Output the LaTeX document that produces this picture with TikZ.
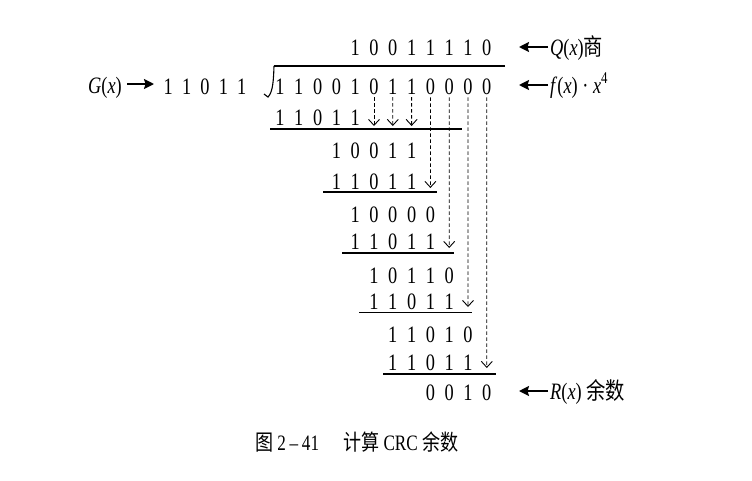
\documentclass[tikz,border=0pt]{standalone}
\usepackage{fontspec}
\setmainfont{Liberation Serif}[FakeStretch=0.78]
\newfontfamily\cjk{Noto Sans CJK SC}[FakeStretch=0.82]
\usetikzlibrary{arrows.meta}
\newcommand\dfont{\fontsize{23.5}{23.5}\selectfont}
\newcommand\digitrow[4]{%
  \foreach \dd [count=\k from 0] in {#4}{%
    \pgfmathsetmacro\xx{280+18.8*(#2+\k)}%
    \node[dg] (#1\k) at (\xx,#3) {\dd};
  }}
\tikzset{
  dg/.style={inner sep=0pt, anchor=base, font=\dfont},
  lab/.style={inner sep=0pt, anchor=base west, font=\dfont},
  rulel/.style={line width=1.7pt},
  bigarr/.style={line width=2pt, -{Stealth[length=10pt,width=10pt,inset=1.5pt]}},
  darr/.style={line width=0.8pt, dash pattern=on 3.5pt off 2.5pt, shorten <=3pt,
    -{Straight Barb[length=6pt,width=11pt,line width=0.9pt]}}
}
\begin{document}
\begin{tikzpicture}[x=1pt,y=-1pt]
\useasboundingbox (0,0) rectangle (752,480);
% quotient and dividend
\digitrow{q}{4}{55}{1,0,0,1,1,1,1,0}
\digitrow{d}{0}{94}{1,1,0,0,1,0,1,1,0,0,0,0}
% divisor
\foreach \dd [count=\k from 0] in {1,1,0,1,1}{%
  \pgfmathsetmacro\xx{168.3+18.35*\k}%
  \node[dg] (g\k) at (\xx,94) {\dd};
}
\node[lab, anchor=base east] (glab) at (122,93) {\textit{G}(\textit{x})};
\coordinate (ga1) at (127,84);
\coordinate (ga2) at (154,84);
\draw[bigarr] (ga1) -- (ga2);
% division bracket
\draw[line width=1.5pt] (505,66) -- (274,66);
\draw[line width=1.1pt] (274,66) .. controls (273.5,80) and (273,92) .. (268,97) -- (264,94);
% partial rows
\digitrow{a}{0}{125}{1,1,0,1,1}
\draw[rulel] (270,129) -- (462,129);
\digitrow{b}{3}{158}{1,0,0,1,1}
\digitrow{c}{3}{189}{1,1,0,1,1}
\draw[rulel] (323,192) -- (437,192);
\digitrow{e}{4}{222}{1,0,0,0,0}
\digitrow{f}{4}{249}{1,1,0,1,1}
\draw[rulel] (342,253) -- (454,253);
\digitrow{h}{5}{283}{1,0,1,1,0}
\digitrow{i}{5}{309}{1,1,0,1,1}
\draw[rulel] (359,312.5) -- (472,312.5);
\digitrow{j}{6}{342}{1,1,0,1,0}
\digitrow{k}{6}{370}{1,1,0,1,1}
\draw[rulel] (383,374) -- (496,374);
\digitrow{r}{8}{400}{0,0,1,0}
% dashed arrows
\coordinate (t5) at (374,126);
\coordinate (t6) at (392.8,126);
\coordinate (t7) at (411.6,126);
\coordinate (t8) at (430.4,188);
\coordinate (t9) at (449.2,248);
\coordinate (t10) at (468,307);
\coordinate (t11) at (486.8,368);
\foreach \n in {5,...,11}{\draw[darr] (d\n.south) -- (t\n);}
% right labels
\coordinate (qa1) at (548,47); \coordinate (qa2) at (519,47);
\draw[bigarr] (qa1) -- (qa2);
\node[lab] (qlab) at (550,55) {\textit{Q}(\textit{x}){\cjk 商}};
\coordinate (fa1) at (548,85); \coordinate (fa2) at (519,85);
\draw[bigarr] (fa1) -- (fa2);
\node[lab] (flab) at (550,93) {\textit{f}(\textit{x}) · \textit{x}\textsuperscript{4}};
\coordinate (ra1) at (548,391); \coordinate (ra2) at (519,391);
\draw[bigarr] (ra1) -- (ra2);
\node[lab] (rlab) at (550,399) {\textit{R}(\textit{x}) {\cjk 余数}};
% caption
\node[inner sep=0pt, anchor=base, font=\fontsize{22}{22}\selectfont] (cap) at (357,450)
  {{\cjk 图}\,2\,–\,41\hspace{24pt}{\cjk 计算} CRC {\cjk 余数}};
\end{tikzpicture}
\end{document}
